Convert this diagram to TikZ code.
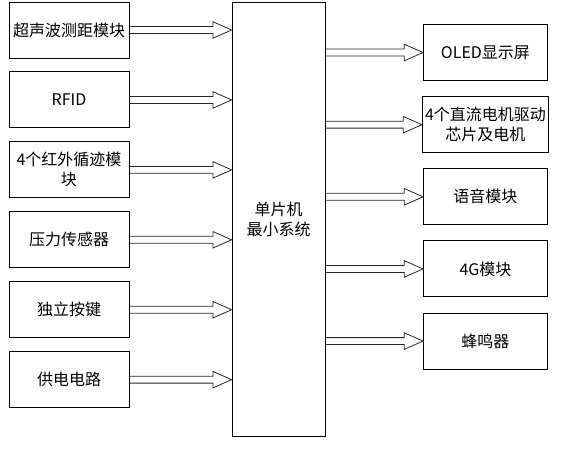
\documentclass[tikz,border=0pt]{standalone}
\usepackage{fontspec}
\setmainfont{Noto Sans CJK SC}
\usetikzlibrary{calc,positioning}

\tikzset{
  block/.style={draw, line width=0.7pt, minimum width=90pt, minimum height=42pt, align=center, inner sep=2pt},
  outblock/.style={block, minimum width=93pt},
  hollow/.style={draw=black!85, line width=0.6pt, line join=miter},
}
% hollow block arrow from #1 to #2 (both at the same height)
\newcommand{\hollowarrow}[2]{%
  \draw[hollow] ($#1+(0,2.6pt)$) -- ($#2+(-14pt,2.6pt)$) -- ($#2+(-14pt,6.2pt)$) -- #2
    -- ($#2+(-14pt,-6.2pt)$) -- ($#2+(-14pt,-2.6pt)$) -- ($#1+(0,-2.6pt)$);}

\begin{document}
\begin{tikzpicture}[font=\fontsize{12pt}{15pt}\selectfont, node distance=9.75pt]
  \useasboundingbox (0,0) rectangle (423pt,-345.75pt);
  % inputs
  \node[block] (ultra) at (51.75pt,-22.5pt) {超声波测距模块};
  \node[block, below=of ultra] (rfid) {RFID};
  \node[block, below=of rfid] (track) {4个红外循迹模\\块};
  \node[block, below=of track] (press) {压力传感器};
  \node[block, below=of press] (keys) {独立按键};
  \node[block, below=of keys] (power) {供电电路};
  % mcu
  \node[draw, line width=0.7pt, minimum width=69.75pt, minimum height=325.5pt, align=center] (mcu)
    at (208.9pt,-164.25pt) {单片机\\最小系统};
  % outputs
  \node[outblock] (oled) at (364.1pt,-39.4pt) {OLED显示屏};
  \node[outblock, below=11.4pt of oled] (motor) {4个直流电机驱动\\芯片及电机};
  \node[outblock, below=11.4pt of motor] (voice) {语音模块};
  \node[outblock, below=11.4pt of voice] (net) {4G模块};
  \node[outblock, below=11.4pt of net] (buzz) {蜂鸣器};
  % arrows in
  \foreach \src in {ultra,rfid,track,press,keys,power}
    \hollowarrow{(\src.east)}{(mcu.west |- \src.east)};
  % arrows out
  \foreach \dst in {oled,motor,voice,net,buzz}
    \hollowarrow{(mcu.east |- \dst.west)}{(\dst.west)};
\end{tikzpicture}
\end{document}
